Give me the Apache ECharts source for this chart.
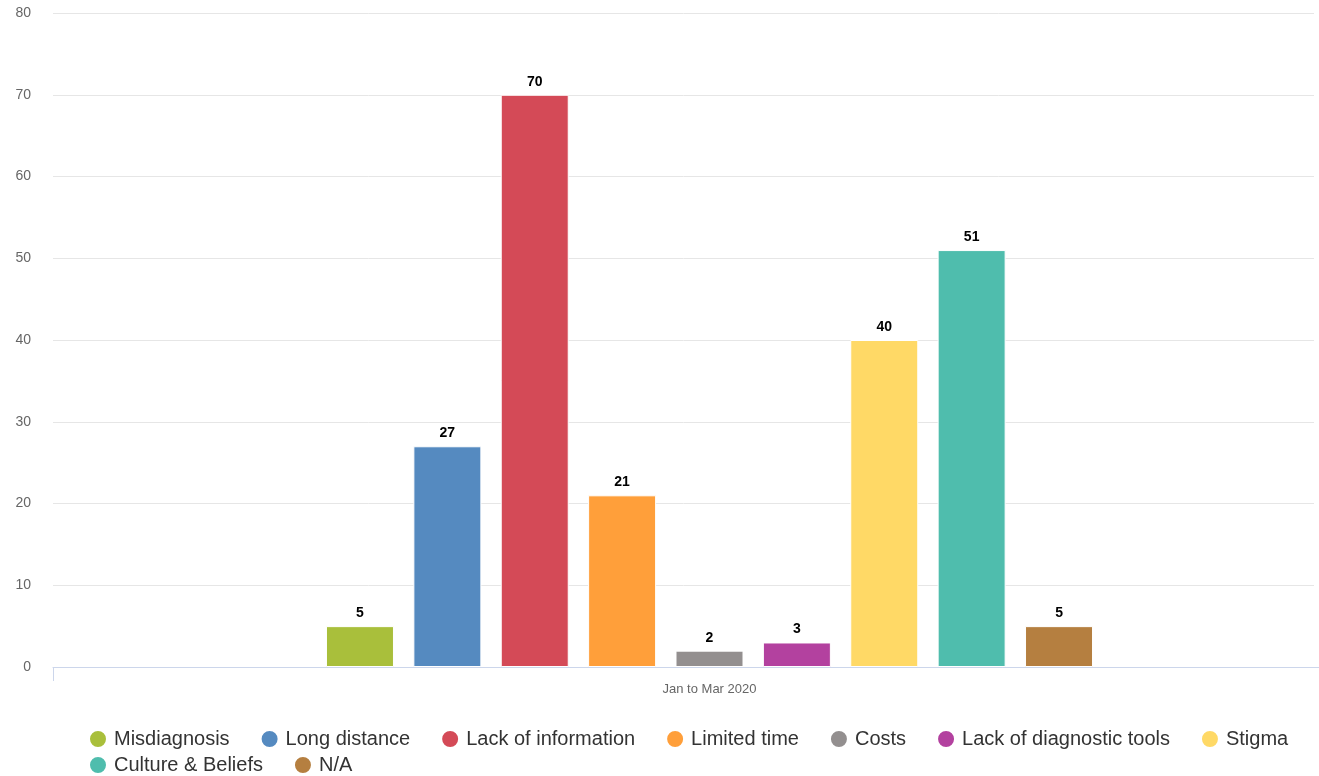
<!DOCTYPE html>
<html><head><meta charset="utf-8">
<script src="https://cdn.jsdelivr.net/npm/echarts@6/dist/echarts.min.js"></script>
<style>html,body{margin:0;padding:0;background:#fff}#c{width:1319px;height:776px}</style>
</head><body><div id="c"></div>
<script>
const categories = ['Jan to Mar 2020'];
const seriesNames = ['Misdiagnosis','Long distance','Lack of information','Limited time','Costs','Lack of diagnostic tools','Stigma','Culture & Beliefs','N/A'];
const seriesValues = [5, 27, 70, 21, 2, 3, 40, 51, 5];
const seriesColors = ['#a9bf3b','#558ac0','#d44a57','#ff9f3a','#938f8f','#b3419f','#ffd966','#4fbdad','#b57f40'];
const yTicks = {min: 0, max: 80, interval: 10};

const chart = echarts.init(document.getElementById('c'), null, {renderer: 'canvas'});
const series = seriesNames.map((n, i) => ({
  name: n, type: 'bar', xAxisIndex: 1, yAxisIndex: 1,
  data: [seriesValues[i]],
  barWidth: 68, barGap: '28.5%',
  itemStyle: {color: seriesColors[i], borderColor: '#fff', borderWidth: 1},
  label: {show: true, position: 'top', distance: 6, color: '#000', fontWeight: 'bold', fontSize: 14, fontFamily: 'Liberation Sans, Arial'},
  emphasis: {disabled: true}
}));
const legendText = {color: '#333', fontSize: 20, fontFamily: 'Liberation Sans, Arial', padding: [0, 0, 0, 2]};
chart.setOption({
  animation: false,
  grid: [
    {left: 53, right: 5, top: 13, bottom: 109},
    {left: 105, right: 5, top: 13, bottom: 109},
    {left: 53, right: -3, top: 13, bottom: 109}
  ],
  xAxis: [
    {gridIndex: 0, type: 'category', data: [''], show: false},
    {gridIndex: 1, type: 'category', data: categories, axisLine: {show: false}, axisTick: {show: false},
     axisLabel: {color: '#666', fontSize: 13, margin: 16, fontFamily: 'Liberation Sans, Arial'}},
    {gridIndex: 2, type: 'category', data: [''], axisLine: {lineStyle: {color: '#ccd6eb'}},
     axisTick: {show: true, length: 14, lineStyle: {color: '#ccd6eb'}}, axisLabel: {show: false}}
  ],
  yAxis: [
    {gridIndex: 0, type: 'value', min: yTicks.min, max: yTicks.max, interval: yTicks.interval,
     axisLabel: {color: '#666', fontSize: 14, margin: 22, fontFamily: 'Liberation Sans, Arial'},
     splitLine: {lineStyle: {color: '#e6e6e6'}}, axisLine: {show: false}, axisTick: {show: false}},
    {gridIndex: 1, type: 'value', min: yTicks.min, max: yTicks.max, interval: yTicks.interval, show: false},
    {gridIndex: 2, type: 'value', min: yTicks.min, max: yTicks.max, interval: yTicks.interval, show: false}
  ],
  legend: [
    {left: 88, top: 729, padding: 0, itemWidth: 18, itemHeight: 18, icon: 'circle', itemGap: 30, textStyle: legendText,
     data: seriesNames.slice(0, 7)},
    {left: 88, top: 755, padding: 0, itemWidth: 18, itemHeight: 18, icon: 'circle', itemGap: 30, textStyle: legendText,
     data: seriesNames.slice(7)}
  ],
  series: series
});
</script></body></html>
